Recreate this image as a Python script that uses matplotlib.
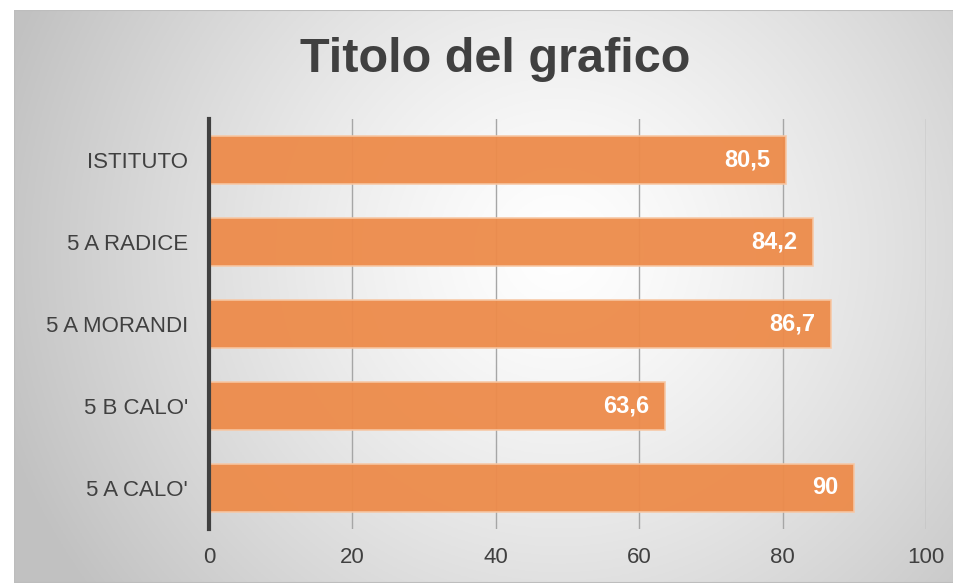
import numpy as np
import matplotlib
matplotlib.use("Agg")
import matplotlib.pyplot as plt
from matplotlib.patches import Rectangle

# data (bottom to top)
classi = ["5 A CALO'", "5 B CALO'", "5 A MORANDI", "5 A RADICE", "ISTITUTO"]
valori = [90, 63.6, 86.7, 84.2, 80.5]
etichette = ["90", "63,6", "86,7", "84,2", "80,5"]
x_ticks = [0, 20, 40, 60, 80, 100]

plt.rcParams['font.family'] = ['Liberation Sans', 'DejaVu Sans']

W, H = 954, 583
fig = plt.figure(figsize=(W / 100, H / 100), dpi=100)
fig.patch.set_facecolor("white")

# radial gradient background of the chart frame
fx0, fy0 = 14 / W, 0.0
fw, fh = 1 - fx0, 1 - 10 / H
bg = fig.add_axes([fx0, fy0, fw, fh], zorder=-5)
nx, ny = 400, 250
xx, yy = np.meshgrid(np.linspace(0, 1, nx), np.linspace(0, 1, ny))
cx, cy = 0.58, 0.42
r = np.sqrt(((xx - cx) * 1.0) ** 2 + ((yy - cy) * 0.62) ** 2)
r = np.clip(r / 0.62, 0, 1)
g = 1.0 - 0.24 * r ** 1.3
img = np.dstack([g, g, g])
bg.imshow(img, extent=[0, 1, 0, 1], aspect="auto", origin="upper")
bg.set_xlim(0, 1)
bg.set_ylim(0, 1)
bg.axis("off")
bg.add_patch(Rectangle((0, 0), 1, 1, fill=False, edgecolor="#bdbdbd", lw=1.5))

ax = fig.add_axes([209 / W, 1 - 529 / H, (926 - 209) / W, (529 - 119) / H])
ax.patch.set_alpha(0)

y = np.arange(len(classi))
ax.barh(y, valori, height=0.59, color="#ED8B4A", edgecolor="#F7C7A4",
        linewidth=1.2, alpha=0.95, zorder=2)
for yi, v, lab in zip(y, valori, etichette):
    ax.text(v - 2.2, yi, lab, ha="right", va="center", color="white",
            fontsize=17, fontweight="bold", zorder=3)

ax.set_xlim(0, 100)
ax.set_ylim(-0.5, len(classi) - 0.5)
ax.set_xticks(x_ticks)
ax.set_yticks(y)
ax.set_yticklabels(classi)
ax.tick_params(axis="both", length=0, labelsize=16, labelcolor="#404040")
ax.tick_params(axis="x", pad=13)
ax.tick_params(axis="y", pad=15)
ax.xaxis.grid(True, color="#a6a6a6", linewidth=1, zorder=1)
ax.set_axisbelow(True)
for s in ["top", "right", "bottom"]:
    ax.spines[s].set_visible(False)
ax.spines["left"].set_color("#404040")
ax.spines["left"].set_linewidth(3)
ax.spines["left"].set_zorder(4)

fig.text(0.519, 1 - 59 / H, "Titolo del grafico", ha="center", va="center",
         fontsize=35, fontweight="bold", color="#404040")

fig.savefig("out.png", dpi=100)
